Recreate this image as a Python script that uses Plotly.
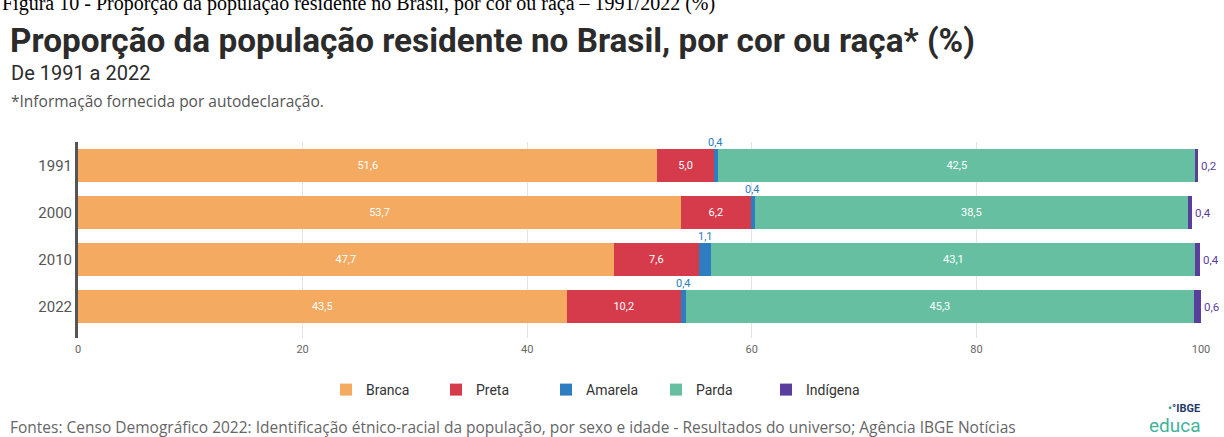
import plotly.graph_objects as go

years = ["1991", "2000", "2010", "2022"]
branca = [51.6, 53.7, 47.7, 43.5]
preta = [5.0, 6.2, 7.6, 10.2]
amarela = [0.4, 0.4, 1.1, 0.4]
parda = [42.5, 38.5, 43.1, 45.3]
indigena = [0.2, 0.4, 0.4, 0.6]
series_names = ["Branca", "Preta", "Amarela", "Parda", "Indígena"]
colors = ["#F5AA62", "#D63B4B", "#2E7DC0", "#67BFA1", "#5A3E9E"]
ticks = [0, 20, 40, 60, 80, 100]

def fmt(v):
    return f"{v:.1f}".replace(".", ",")

fig = go.Figure()
all_series = [branca, preta, amarela, parda, indigena]
for name, vals, col in zip(series_names, all_series, colors):
    inside = name in ("Branca", "Preta", "Parda")
    fig.add_trace(go.Bar(
        y=years, x=vals, name=name, orientation="h",
        marker=dict(color=col, line=dict(width=0)),
        text=[fmt(v) for v in vals] if inside else None,
        textposition="inside" if inside else "none",
        insidetextanchor="middle",
        textangle=0,
        textfont=dict(color="white", size=11, family="Roboto"),
        cliponaxis=False,
    ))

# annotations on a category axis use the category index
for i, y in enumerate(years):
    xc = branca[i] + preta[i] + amarela[i] / 2
    fig.add_annotation(x=xc, y=i, text=fmt(amarela[i]), showarrow=False,
                       yshift=23, font=dict(color="#2E7DC0", size=11, family="Roboto"),
                       xanchor="center", yanchor="middle")
    xe = branca[i] + preta[i] + amarela[i] + parda[i] + indigena[i]
    fig.add_annotation(x=xe, y=i, text=fmt(indigena[i]), showarrow=False,
                       xshift=1, font=dict(color="#5A3E9E", size=11.5, family="Roboto"),
                       xanchor="left", yanchor="middle")

L, R, T, B = 78, 23, 142, 99
W, H = 1224, 437
ph = H - T - B
pw = W - L - R

def py(p):
    return (H - B - p) / ph

def px(p):
    return (p - L) / pw

texts = [
    ("Figura 10 - Proporção da população residente no Brasil, por cor ou raça – 1991/2022 (%)",
     0, 3, dict(family="Liberation Serif", size=20, color="black")),
    ("<b>Proporção da população residente no Brasil, por cor ou raça* (%)</b>",
     8, 40, dict(family="Roboto", size=33.3, color="#2b2b2b")),
    ("De 1991 a 2022", 9, 73, dict(family="Roboto", size=20, color="#2b2b2b")),
    ("*Informação fornecida por autodeclaração.", 9, 101, dict(family="Open Sans", size=15.5, color="#555555")),
    ("Fontes: Censo Demográfico 2022: Identificação étnico-racial da população, por sexo e idade - Resultados do universo; Agência IBGE Notícias",
     8, 427, dict(family="Open Sans", size=15.5, color="#666666")),
]
for t, x, y, f in texts:
    fig.add_annotation(text=t, x=px(x), y=py(y), xref="paper", yref="paper",
                       xanchor="left", yanchor="middle", showarrow=False, font=f)

fig.add_annotation(text="<b><span style='color:#2aa57f'>•</span>°IBGE</b>", x=px(1202), y=py(408),
                   xref="paper", yref="paper", xanchor="right", yanchor="middle",
                   showarrow=False, font=dict(family="Roboto", size=11, color="#1f3a68"))
fig.add_annotation(text="educa", x=px(1203), y=py(425),
                   xref="paper", yref="paper", xanchor="right", yanchor="middle",
                   showarrow=False, font=dict(family="Roboto", size=19, color="#3fb39a"))

fig.update_layout(
    width=W, height=H, barmode="stack", bargap=0.3,
    margin=dict(l=L, r=R, t=T, b=B, autoexpand=False),
    plot_bgcolor="white", paper_bgcolor="white",
    showlegend=True,
    legend=dict(orientation="h", x=px(326), xanchor="left", y=py(390), yanchor="middle",
                font=dict(family="Roboto", size=14, color="#333333"),
                entrywidth=65, itemsizing="constant", traceorder="normal"),
    xaxis=dict(range=[0, 100], tickvals=ticks, ticktext=[str(t) for t in ticks],
               showgrid=True, gridcolor="#e4e4e4", gridwidth=1, zeroline=False,
               tickfont=dict(family="Roboto", size=11, color="#666666"), ticks="",
               ticklabelstandoff=3, showline=False),
    yaxis=dict(type="category", autorange="reversed", showline=True, linecolor="#555555", linewidth=3,
               tickfont=dict(family="Roboto", size=15, color="#555555"), ticks="",
               showgrid=False, zeroline=False),
)

fig.write_html("out.html", config={"displayModeBar": False},
               post_script="document.body.style.margin='0';")
